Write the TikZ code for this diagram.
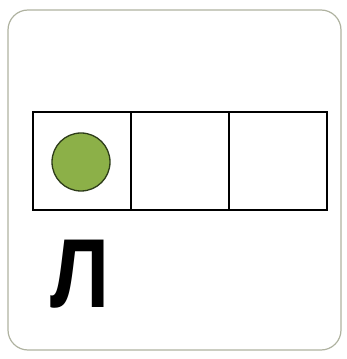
\documentclass[tikz,border=0pt]{standalone}
\usepackage{fontspec}
\setmainfont{Liberation Sans}
\usetikzlibrary{positioning}
\definecolor{cardgray}{RGB}{175,178,160}
\definecolor{dotgreen}{RGB}{140,176,72}
\definecolor{dotedge}{RGB}{45,60,25}

\begin{document}
\begin{tikzpicture}[x=1pt,y=1pt,
  cell/.style={rectangle,draw,line width=2.2pt,minimum width=98pt,minimum height=98pt,inner sep=0pt,outer sep=0pt},
  sound/.style={circle,draw=dotedge,line width=1.3pt,fill=dotgreen,minimum size=58pt,inner sep=0pt},
  letter/.style={font=\bfseries\fontsize{98}{98}\selectfont,inner sep=0pt,anchor=base,xscale=0.86,transform shape}]
\useasboundingbox (0,0) rectangle (347,359);
\node[draw=cardgray,line width=1.2pt,rounded corners=20pt,minimum width=333pt,minimum height=340pt,inner sep=0pt] (card) at (174.5,179) {};
\node[cell] (c1) at (82,198) {};
\node[cell,right=0pt of c1] (c2) {};
\node[cell,right=0pt of c2] (c3) {};
\node[sound] (dot) at (81,197) {};
\node[letter] (l) at (80,51) {Л};
\end{tikzpicture}
\end{document}
